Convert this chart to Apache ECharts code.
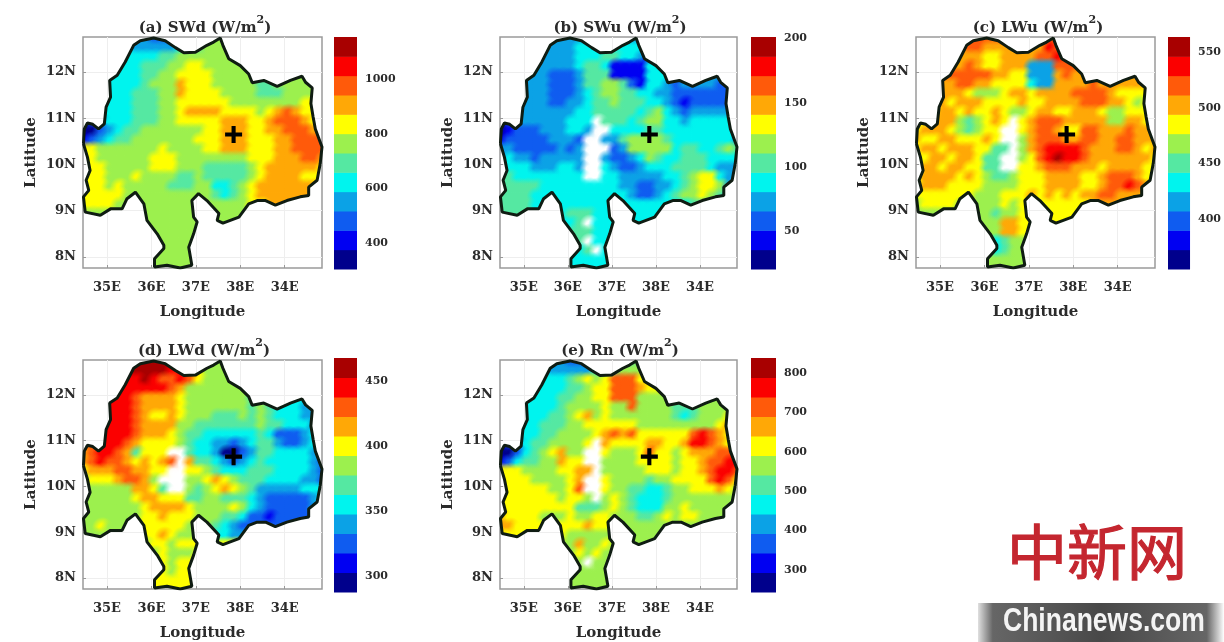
<!DOCTYPE html>
<html><head><meta charset="utf-8">
<style>html,body{margin:0;padding:0;background:#fff}#c{width:1224px;height:642px;filter:blur(0.7px)}</style>
<script src="https://cdn.jsdelivr.net/npm/echarts@6/dist/echarts.min.js"></script>
</head><body><div id="c"></div>
<script>
const lonTickValues=[35,36,37,38,39];
const lonTickLabels=['35E','36E','37E','38E','34E'];
const latTickValues=[8,9,10,11,12];
const latTickLabels=['8N','9N','10N','11N','12N'];
const crossPoint=[37.85,10.65];
const panelTitles=['(a) SWd (W/m','(b) SWu (W/m','(c) LWu (W/m','(d) LWd (W/m','(e) Rn (W/m'];
const barRanges=[[305,1154],[21,201],[355,564],[288,468],[244,838]];
const barTicks=[[400,600,800,1000],[50,100,150,200],[400,450,500,550],[300,350,400,450],[300,400,500,600,700,800]];
const jet=['#00008c','#0000f2','#0f5cf0','#0ba2e6','#00f4ee','#55e8a2','#9cf04e','#ffff00','#ffa806','#ff5a0a','#fb0000','#a80000'];
const outline=[[34.47,10.45],[34.49,10.77],[34.56,10.90],[34.68,10.87],[34.81,10.77],[34.94,10.88],[34.98,11.24],[35.08,11.46],[35.06,11.82],[35.23,11.93],[35.41,12.22],[35.60,12.58],[35.75,12.68],[36.05,12.74],[36.31,12.68],[36.54,12.53],[36.73,12.42],[36.99,12.43],[37.25,12.58],[37.40,12.65],[37.55,12.74],[37.61,12.58],[37.74,12.29],[38.00,12.14],[38.19,11.96],[38.27,11.77],[38.53,11.82],[38.83,11.69],[39.13,11.82],[39.39,11.91],[39.47,11.78],[39.62,11.66],[39.59,11.32],[39.64,11.03],[39.69,10.77],[39.84,10.38],[39.80,10.02],[39.73,9.66],[39.54,9.51],[39.54,9.33],[39.35,9.30],[39.05,9.22],[38.79,9.12],[38.57,9.22],[38.38,9.22],[38.19,9.15],[37.97,8.86],[37.61,8.73],[37.48,8.79],[37.52,8.94],[37.25,9.22],[37.06,9.37],[36.91,9.22],[36.95,8.86],[37.03,8.76],[36.95,8.50],[36.84,8.21],[36.91,7.82],[36.65,7.76],[36.35,7.82],[36.07,7.78],[36.07,7.96],[36.28,8.18],[36.28,8.25],[36.13,8.50],[35.90,8.79],[35.83,9.15],[35.64,9.40],[35.45,9.26],[35.34,9.04],[35.08,9.04],[34.85,8.90],[34.51,8.97],[34.47,9.30],[34.59,9.44],[34.53,9.66],[34.62,9.87],[34.56,10.16]];
// colour-band index per 0.2 degree cell, north to south, west to east; '.' = no data
const swdRows=["3333333322233566666666666666","4444443333345566666666666666","4444444445566666666666666666","4444444555667766666666666666","4444444556677776666666666666","4444444566687776666655666666","4444445556687777666655566666","4444445556677777766666666777","4444445556678888777767898777","1234445556677777888778999877","0023455666666677888778899988","1234556666666777888777889999","7766666667666677888777889999","7766666677766666666777888998","7776666677766655555678888887","7776667666655655555678888777","7776766666555664456788888887","7777766666666665456788888888","7777666666666666666778888888","6666666666666666666666666666","6666666666666666666666666666","6666666666666666666666666666","6666666666666666666666666666","6666666666666666666666666666","6666666666666666666666666666"];
const swuRows=["3333333333333333344444444444","3333333334444444444444444444","3333333334445544311444444444","3333333334554111144444444444","3333332223555111144433333333","3333332223556652144323333222","3333332223456655443322222222","3333332233455655544321222222","3333333334455555456432333333","02333333444.5554566443444443","01222333443..444455444444444","1222223332..3356666544444443","3322222323...236666645544565","3433233333..3223465445554444","4444333443..4322344455554333","5544444444..4433333445677433","5555544444444433223345677633","5555444444444443223456676533","5555444444444444444444555544","5555444455544444444444444444","4444444445.44444444444444444","4444444455544444444444444444","4444444455.44444444444444444","44444444445.4444444444444444","4444444444444444444444444444"];
const lwuRows=["8888889999988889888888888888","888888998888888a988888888888","8888888877888899a99888888888","8888889877888333999888888888","9999999998877333898888888888","8888899887777433888898888888","7778887666788788889999877777","7778788877778778888999887677","7778878778766788778887667777","77888656787.7899988888668877","7888765677..7899877998889887","8778877787..6899988998899888","78878887755.689aaaa988899878","7788788755..679abaa988888887","7887887755..7789998887888877","7888878765567778888778999877","788877776666777888877899a988","7777777666777878787889988877","6777766666767777777788888777","6666666665667777777777777777","6666666666887777777777777777","6666666666887777777777777777","6666666654566777777777777777","6666666664566777777777777777","6666666666666666666666666666"];
const lwdRows=["bbbbbbbbbbb98666666666666666","bbbbbbbbbbaa8766666666666666","aaaaaaaba99a9766666666666666","aaaaaaaaaa986666666666666644","aaaaaa9888876666666555544445","aaaaaa9888876666666565444333","aaaaaa9877876665556565444333","aaaaaa9888866555555565544433","aaaaaa9888765544444454222344","99aaa98777765443323455322344","89aa985777..5443002355444433","89a99878789.8554323454444432","7888998877..7765444555444432","677789986...6678765554444332","6666668875..6567876533333444","6666667887775566555432222234","6666666788887666676432222233","6666666778777666554221222222","6676667777776665432222222222","6666666778766664433333333333","6666666677677777777777777777","6666666667666777777777777777","6666666667677777777777777777","7777777777677777777777777777","7777777777777777777777777777"];
const rnRows=["3333333322111345666666666666","4444443333344566666666666666","4444444456767999777666666666","4444444455677999877766666666","4444444556677999666666666666","4444444566667669666655566666","4444445567867666666654566677","4444455566777777666666666788","44444556666789897777779a9877","12345566667.8777788778aa9877","0024567866..7666797767888999","1245566877..66667777677899aa","77766667788.6666677767789aa9","7777666678..7666656677779a97","7777776679..7665544566777876","77777776776.6765444566666666","7777777775556765444667666666","8777766676677666556767766666","8877777777877766666666666666","7777777766666666666666666666","6666666668667666666666666666","6666666667676666666666666666","6666666666.66666666666666666","6666666666666666666666666666","6666666666666666666666666666"];
const allRows=[swdRows,swuRows,lwuRows,lwdRows,rnRows];
const layout=[
 {l:83,t:37,w:239,h:231,bl:334,bw:23,bt:37,bh:232,tc:200},
 {l:500,t:37,w:237,h:231,bl:751,bw:25,bt:37,bh:232,tc:615},
 {l:916,t:37,w:239,h:231,bl:1168,bw:25,bt:37,bh:232,tc:1033},
 {l:83,t:360,w:239,h:232,bl:334,bw:23,bt:358,bh:234,tc:199},
 {l:500,t:360,w:237,h:232,bl:751,bw:25,bt:358,bh:234,tc:615}
];
const serif="'DejaVu Serif'";
const ink='#2b2b2b';
const grid=[],xAxis=[],yAxis=[],series=[],title=[];
const fromTicks=(vals,labs)=>v=>{const i=vals.indexOf(v);return i<0?'':labs[i];};
const rgba=(hex,a)=>'rgba('+parseInt(hex.slice(1,3),16)+','+parseInt(hex.slice(3,5),16)+','+parseInt(hex.slice(5,7),16)+','+a+')';
const softFill=hex=>new echarts.graphic.RadialGradient(0.5,0.5,0.5,[{offset:0,color:rgba(hex,1)},{offset:0.35,color:rgba(hex,0.95)},{offset:1,color:rgba(hex,0)}]);
const softFills=jet.map(softFill), softWhite=softFill('#ffffff');
layout.forEach((L,p)=>{
  const mapIdx=p*2, barIdx=p*2+1;
  grid.push({left:L.l,top:L.t,width:L.w,height:L.h,show:true,borderColor:'#9a9a9a',borderWidth:1.5,backgroundColor:'#fff'});
  grid.push({left:L.bl,top:L.bt,width:L.bw,height:L.bh});
  xAxis.push({gridIndex:mapIdx,type:'value',min:34.46,max:39.84,name:'Longitude',nameLocation:'middle',nameGap:37,
    nameTextStyle:{fontFamily:serif,fontWeight:'bold',fontSize:15,color:ink},
    axisLine:{show:false},axisTick:{show:true,inside:true,length:3,lineStyle:{color:'#999'},customValues:lonTickValues},
    splitLine:{show:true,lineStyle:{color:'#eeeeee',width:1}},
    axisLabel:{customValues:lonTickValues,formatter:fromTicks(lonTickValues,lonTickLabels),fontFamily:serif,fontWeight:'bold',fontSize:13,color:ink,margin:13}});
  yAxis.push({gridIndex:mapIdx,type:'value',min:7.76,max:12.76,name:'Latitude',nameLocation:'middle',nameGap:44,nameRotate:90,
    nameTextStyle:{fontFamily:serif,fontWeight:'bold',fontSize:15,color:ink},
    axisLine:{show:false},axisTick:{show:true,inside:true,length:3,lineStyle:{color:'#999'},customValues:latTickValues},
    splitLine:{show:true,lineStyle:{color:'#eeeeee',width:1}},
    axisLabel:{customValues:latTickValues,formatter:fromTicks(latTickValues,latTickLabels),fontFamily:serif,fontWeight:'bold',fontSize:13,color:ink,margin:7}});
  const rg=barRanges[p];
  xAxis.push({gridIndex:barIdx,type:'value',min:0,max:1,show:false});
  yAxis.push({gridIndex:barIdx,type:'value',min:rg[0],max:rg[1],position:'right',
    axisLine:{show:false},axisTick:{show:false},splitLine:{show:false},
    axisLabel:{customValues:barTicks[p],formatter:v=>String(v),fontFamily:serif,fontWeight:'bold',fontSize:11,color:ink,margin:8}});
  // map cells
  const rows=allRows[p], band=(rg[1]-rg[0])/jet.length, cells=[];
  rows.forEach((row,j)=>{for(let i=0;i<row.length;i++){
    const ch=row[i];
    cells.push([+(34.5+0.2*i).toFixed(1),+(12.7-0.2*j).toFixed(1),ch==='.'?-1:rg[0]+(parseInt(ch,16)+0.5)*band]);
  }});
  const levelOf=v=>v<0?-1:Math.min(jet.length-1,Math.floor((v-rg[0])/band));
  const clipOf=api=>({type:'polygon',shape:{points:outline.map(q=>api.coord(q))}});
  series.push({type:'custom',xAxisIndex:mapIdx,yAxisIndex:mapIdx,silent:true,animation:false,clip:false,data:cells,encode:{x:0,y:1},z:2,
    renderItem(params,api){
      const lon=api.value(0),lat=api.value(1),k=levelOf(api.value(2));
      const a=api.coord([lon-0.1,lat+0.1]),b=api.coord([lon+0.1,lat-0.1]);
      return {type:'rect',shape:{x:a[0],y:a[1],width:b[0]-a[0]+0.6,height:b[1]-a[1]+0.6},style:{fill:k<0?'#ffffff':jet[k]},clipPath:clipOf(api)};
    }});
  series.push({type:'custom',xAxisIndex:mapIdx,yAxisIndex:mapIdx,silent:true,animation:false,clip:false,data:cells,encode:{x:0,y:1},z:2,
    renderItem(params,api){
      const lon=api.value(0),lat=api.value(1),k=levelOf(api.value(2));
      const a=api.coord([lon-0.24,lat+0.24]),b=api.coord([lon+0.24,lat-0.24]);
      return {type:'rect',shape:{x:a[0],y:a[1],width:b[0]-a[0],height:b[1]-a[1]},style:{fill:k<0?softWhite:softFills[k]},clipPath:clipOf(api)};
    }});
  series.push({type:'line',xAxisIndex:mapIdx,yAxisIndex:mapIdx,data:outline.concat([outline[0]]),showSymbol:false,symbol:'none',silent:true,animation:false,z:3,
    lineStyle:{color:'#0f1c12',width:3}});
  series.push({type:'scatter',xAxisIndex:mapIdx,yAxisIndex:mapIdx,data:[crossPoint],symbol:'path://M3.8,0h2.4v3.8h3.8v2.4h-3.8v3.8h-2.4v-3.8h-3.8v-2.4h3.8z',symbolSize:17,itemStyle:{color:'#000',opacity:1},silent:true,animation:false,z:4});
  // colour bar
  const bands=jet.map((c,k)=>[rg[0]+k*band,rg[0]+(k+1)*band,k]);
  series.push({type:'custom',xAxisIndex:barIdx,yAxisIndex:barIdx,silent:true,animation:false,data:bands,encode:{y:[0,1]},
    renderItem(params,api){
      const a=api.coord([0,api.value(1)]),b=api.coord([1,api.value(0)]);
      return {type:'rect',shape:{x:a[0],y:a[1],width:b[0]-a[0],height:b[1]-a[1]+0.5},style:{fill:jet[api.value(2)]}};
    }});
  title.push({text:'{m|'+panelTitles[p]+'}{s|2}{m|)}',left:L.tc,top:L.t-27,textAlign:'center',
    textStyle:{rich:{m:{fontFamily:serif,fontWeight:'bold',fontSize:15,color:ink,verticalAlign:'bottom'},
      s:{fontFamily:serif,fontWeight:'bold',fontSize:11,color:ink,padding:[0,0,10,0],verticalAlign:'top'}}}});
});
const chart=echarts.init(document.getElementById('c'),null,{renderer:'canvas',width:1224,height:642});
chart.setOption({animation:false,backgroundColor:'#fff',title,grid,xAxis,yAxis,series,
 graphic:[
  {type:'text',x:1007,y:522,style:{text:'中新网',font:"normal 60px 'Noto Sans CJK SC'",fill:'#c4262f',stroke:'#c4262f',lineWidth:1.2}},
  {type:'rect',x:978,y:603,shape:{width:246,height:39},style:{fill:new echarts.graphic.LinearGradient(0,0,1,0,[{offset:0,color:'#e0e0e0'},{offset:0.06,color:'#666'},{offset:0.5,color:'#484848'},{offset:0.93,color:'#666'},{offset:0.99,color:'#e8e8e8'},{offset:1,color:'#fff'}])}},
  {type:'text',x:1003,y:605,scaleX:0.78,style:{text:'Chinanews.com',font:"bold 34px 'Liberation Sans'",fill:'#f4f4f4'}}
 ]});
</script></body></html>
